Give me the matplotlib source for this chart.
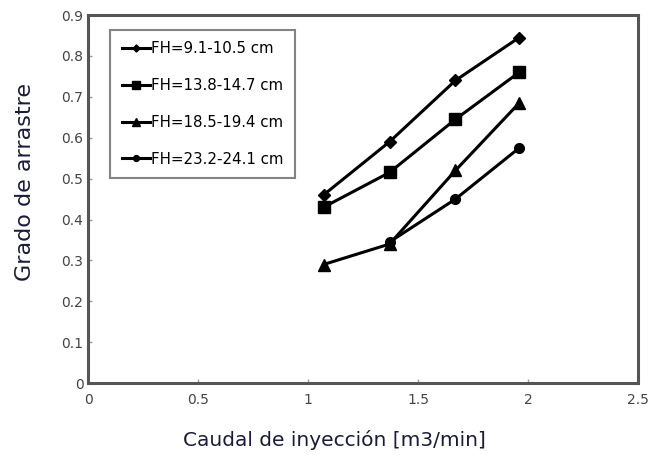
import numpy as np
import matplotlib.pyplot as plt

# caudal de inyección [m3/min] y grado de arrastre por franja de altura
caudal = [1.07, 1.37, 1.67, 1.96]
caudal_c = [1.37, 1.67, 1.96]
fh_9 = [0.46, 0.59, 0.74, 0.845]
fh_13 = [0.43, 0.515, 0.645, 0.76]
fh_18 = [0.29, 0.34, 0.52, 0.685]
fh_23 = [0.345, 0.45, 0.575]
labels = ['FH=9.1-10.5 cm', 'FH=13.8-14.7 cm', 'FH=18.5-19.4 cm', 'FH=23.2-24.1 cm']

fig = plt.figure(figsize=(6.49, 4.55), dpi=100)
ax = fig.add_axes([0.136, 0.158, 0.847, 0.809])

lw = 2.2
ax.plot(caudal, fh_9, '-', color='black', lw=lw, marker='D', ms=6, label=labels[0])
ax.plot(caudal, fh_13, '-', color='black', lw=lw, marker='s', ms=9, label=labels[1])
ax.plot(caudal, fh_18, '-', color='black', lw=lw, marker='^', ms=9, label=labels[2])
ax.plot(caudal_c, fh_23, '-', color='black', lw=lw, marker='o', ms=7, label=labels[3])

ax.set_xlim(0, 2.5)
ax.set_ylim(0, 0.9)
ax.set_xticks(np.arange(0, 2.51, 0.5))
ax.set_xticklabels(['0', '0.5', '1', '1.5', '2', '2.5'])
ax.set_yticks(np.arange(0, 0.91, 0.1))
ax.set_yticklabels(['0', '0.1', '0.2', '0.3', '0.4', '0.5', '0.6', '0.7', '0.8', '0.9'])
ax.tick_params(direction='in', length=3, width=1, color='#999999',
               labelsize=10, labelcolor='#444444')
ax.tick_params(axis='x', pad=7)
for s in ax.spines.values():
    s.set_linewidth(2.2)
    s.set_color('#555555')

ax.set_xlabel('Caudal de inyección [m3/min]', fontsize=14.5, color='#1a1a3a')
ax.set_ylabel('Grado de arrastre', fontsize=16, color='#1a1a3a')
ax.xaxis.set_label_coords(0.447, -0.128)
ax.yaxis.set_label_coords(-0.097, 0.546)

leg = ax.legend(loc='upper left', bbox_to_anchor=(0.04, 0.959), fontsize=10.8,
                frameon=True, fancybox=False, handlelength=1.9, handletextpad=0.05,
                labelspacing=1.45, borderpad=0.75, borderaxespad=0, markerscale=0.6)
leg.get_frame().set_edgecolor('#666666')
leg.get_frame().set_linewidth(1.5)

fig.savefig('out.png', dpi=100)
